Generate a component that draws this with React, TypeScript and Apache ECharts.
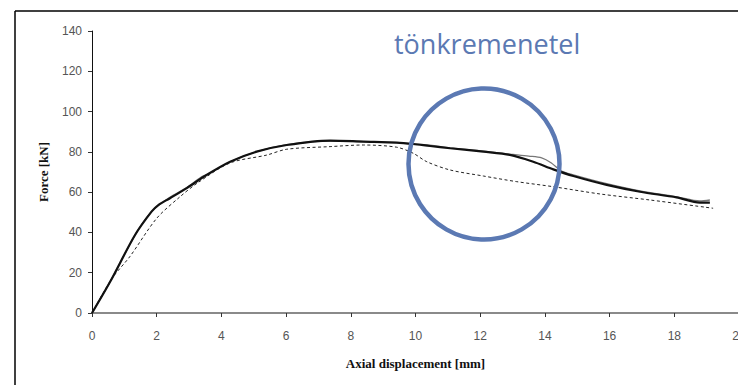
import React, { useEffect, useRef } from "react";
import * as echarts from "echarts";

const xTicksMax = 20;
const yTicksMax = 140;

// Displacement [mm], Force [kN]
const solidX = [0, 0.56, 1.33, 1.84, 2.05, 2.41, 2.93, 3.54, 4.27, 5.09, 6.02, 7.36, 8.39, 9.42, 9.93, 10.45, 11.07, 12.1, 12.92, 13.64, 14.26, 14.88, 15.91, 16.94, 18.07, 18.79, 19.1];
const solidY = [0, 15.5, 38.7, 50.3, 53.6, 57, 62, 68.5, 75.1, 80.1, 83.4, 85.6, 85.1, 84.6, 83.9, 82.9, 81.8, 80.1, 78.5, 75.1, 71.3, 68, 63.6, 60.2, 57.4, 54.8, 54.8];

const grayX = [0, 0.56, 1.33, 1.84, 2.41, 2.93, 3.4, 3.6, 4.27, 5.09, 6.02, 7.36, 8.39, 9.42, 10.45, 11.07, 12.1, 12.92, 13.5, 13.9, 14.2, 14.5, 14.88, 15.91, 16.94, 18.07, 18.79, 19.1];
const grayY = [0, 15.5, 38.7, 50.3, 57.5, 62.3, 67.8, 69, 75.1, 80.1, 83.6, 85.4, 85.1, 84.6, 83.3, 82, 80.4, 78.9, 77.9, 77, 74.5, 70.6, 68.6, 64.2, 60.6, 57.7, 55.6, 56.1];

const dashX = [0, 0.61, 1.17, 2, 2.72, 3.3, 4.27, 5.4, 6.02, 7.36, 8.39, 9.42, 9.93, 10.35, 11.07, 12.1, 13.13, 14.26, 15.7, 17.25, 19.2];
const dashY = [0, 17, 28, 47, 57.7, 65, 74.5, 78.4, 81.3, 82.6, 83.4, 82.3, 79.3, 75.1, 71, 68, 65.2, 62.7, 59.1, 56.1, 52];

const annotationText = "tönkremenetel";
const xTitle = "Axial displacement [mm]";
const yTitle = "Force [kN]";

const pairs = (xs: number[], ys: number[]) => xs.map((x, i) => [x, ys[i]]);

export default function App() {
  const ref = useRef<HTMLDivElement>(null);
  useEffect(() => {
    if (!ref.current) return;
    const chart = echarts.init(ref.current, undefined, { renderer: "svg" });
    const blue = "#5b79b3";
    chart.setOption({
      animation: false,
      backgroundColor: "#ffffff",
      grid: { left: 92, right: -1, top: 31, bottom: 72, containLabel: false, outerBoundsMode: "none" },
      xAxis: {
        type: "value",
        min: 0,
        max: xTicksMax,
        interval: 2,
        name: xTitle,
        nameLocation: "middle",
        nameGap: 44,
        nameTextStyle: { fontFamily: "Liberation Serif", fontWeight: "bold", fontSize: 13, color: "#111" },
        axisLine: { lineStyle: { color: "#8a8a8a", width: 2 } },
        axisTick: { show: true, length: 4, inside: false, lineStyle: { color: "#333", width: 1 } },
        axisLabel: { fontFamily: "Liberation Sans", fontSize: 12, color: "#555", margin: 17, hideOverlap: false },
        splitLine: { show: false },
      },
      yAxis: {
        type: "value",
        min: 0,
        max: yTicksMax,
        interval: 20,
        name: yTitle,
        nameLocation: "middle",
        nameGap: 42,
        nameRotate: 90,
        nameTextStyle: { fontFamily: "Liberation Serif", fontWeight: "bold", fontSize: 13, color: "#111" },
        axisLine: { show: true, lineStyle: { color: "#111", width: 1 } },
        axisTick: { show: true, length: 4, lineStyle: { color: "#333", width: 1 } },
        axisLabel: { fontFamily: "Liberation Sans", fontSize: 12, color: "#555", margin: 10 },
        splitLine: { show: false },
      },
      series: [
        {
          type: "line",
          data: pairs(dashX, dashY),
          showSymbol: false,
          smooth: 0.3,
          lineStyle: { color: "#222", width: 1, type: [3, 2.5] },
          z: 2,
        },
        {
          type: "line",
          data: pairs(grayX, grayY),
          showSymbol: false,
          smooth: 0.3,
          lineStyle: { color: "#777", width: 1.3 },
          z: 3,
        },
        {
          type: "line",
          data: pairs(solidX, solidY),
          showSymbol: false,
          smooth: 0.3,
          lineStyle: { color: "#111", width: 2.2 },
          z: 4,
        },
      ],
      graphic: [
        { type: "line", shape: { x1: 15, y1: 11, x2: 738, y2: 11 }, style: { stroke: "#000", lineWidth: 1.5 } },
        { type: "line", shape: { x1: 15, y1: 11, x2: 15, y2: 385 }, style: { stroke: "#000", lineWidth: 1.5 } },
        {
          type: "circle",
          shape: { cx: 484, cy: 164, r: 75.5 },
          style: { fill: "none", stroke: blue, lineWidth: 4.5 },
          z: 10,
        },
        {
          type: "text",
          x: 394,
          y: 30,
          style: {
            text: annotationText,
            fontFamily: "Open Sans",
            fontSize: 27,
            fill: blue,
            verticalAlign: "top",
          },
          z: 10,
        },
      ],
    });
    return () => chart.dispose();
  }, []);
  return <div ref={ref} style={{ position: "fixed", left: 0, top: 0, width: 738, height: 385 }} />;
}
